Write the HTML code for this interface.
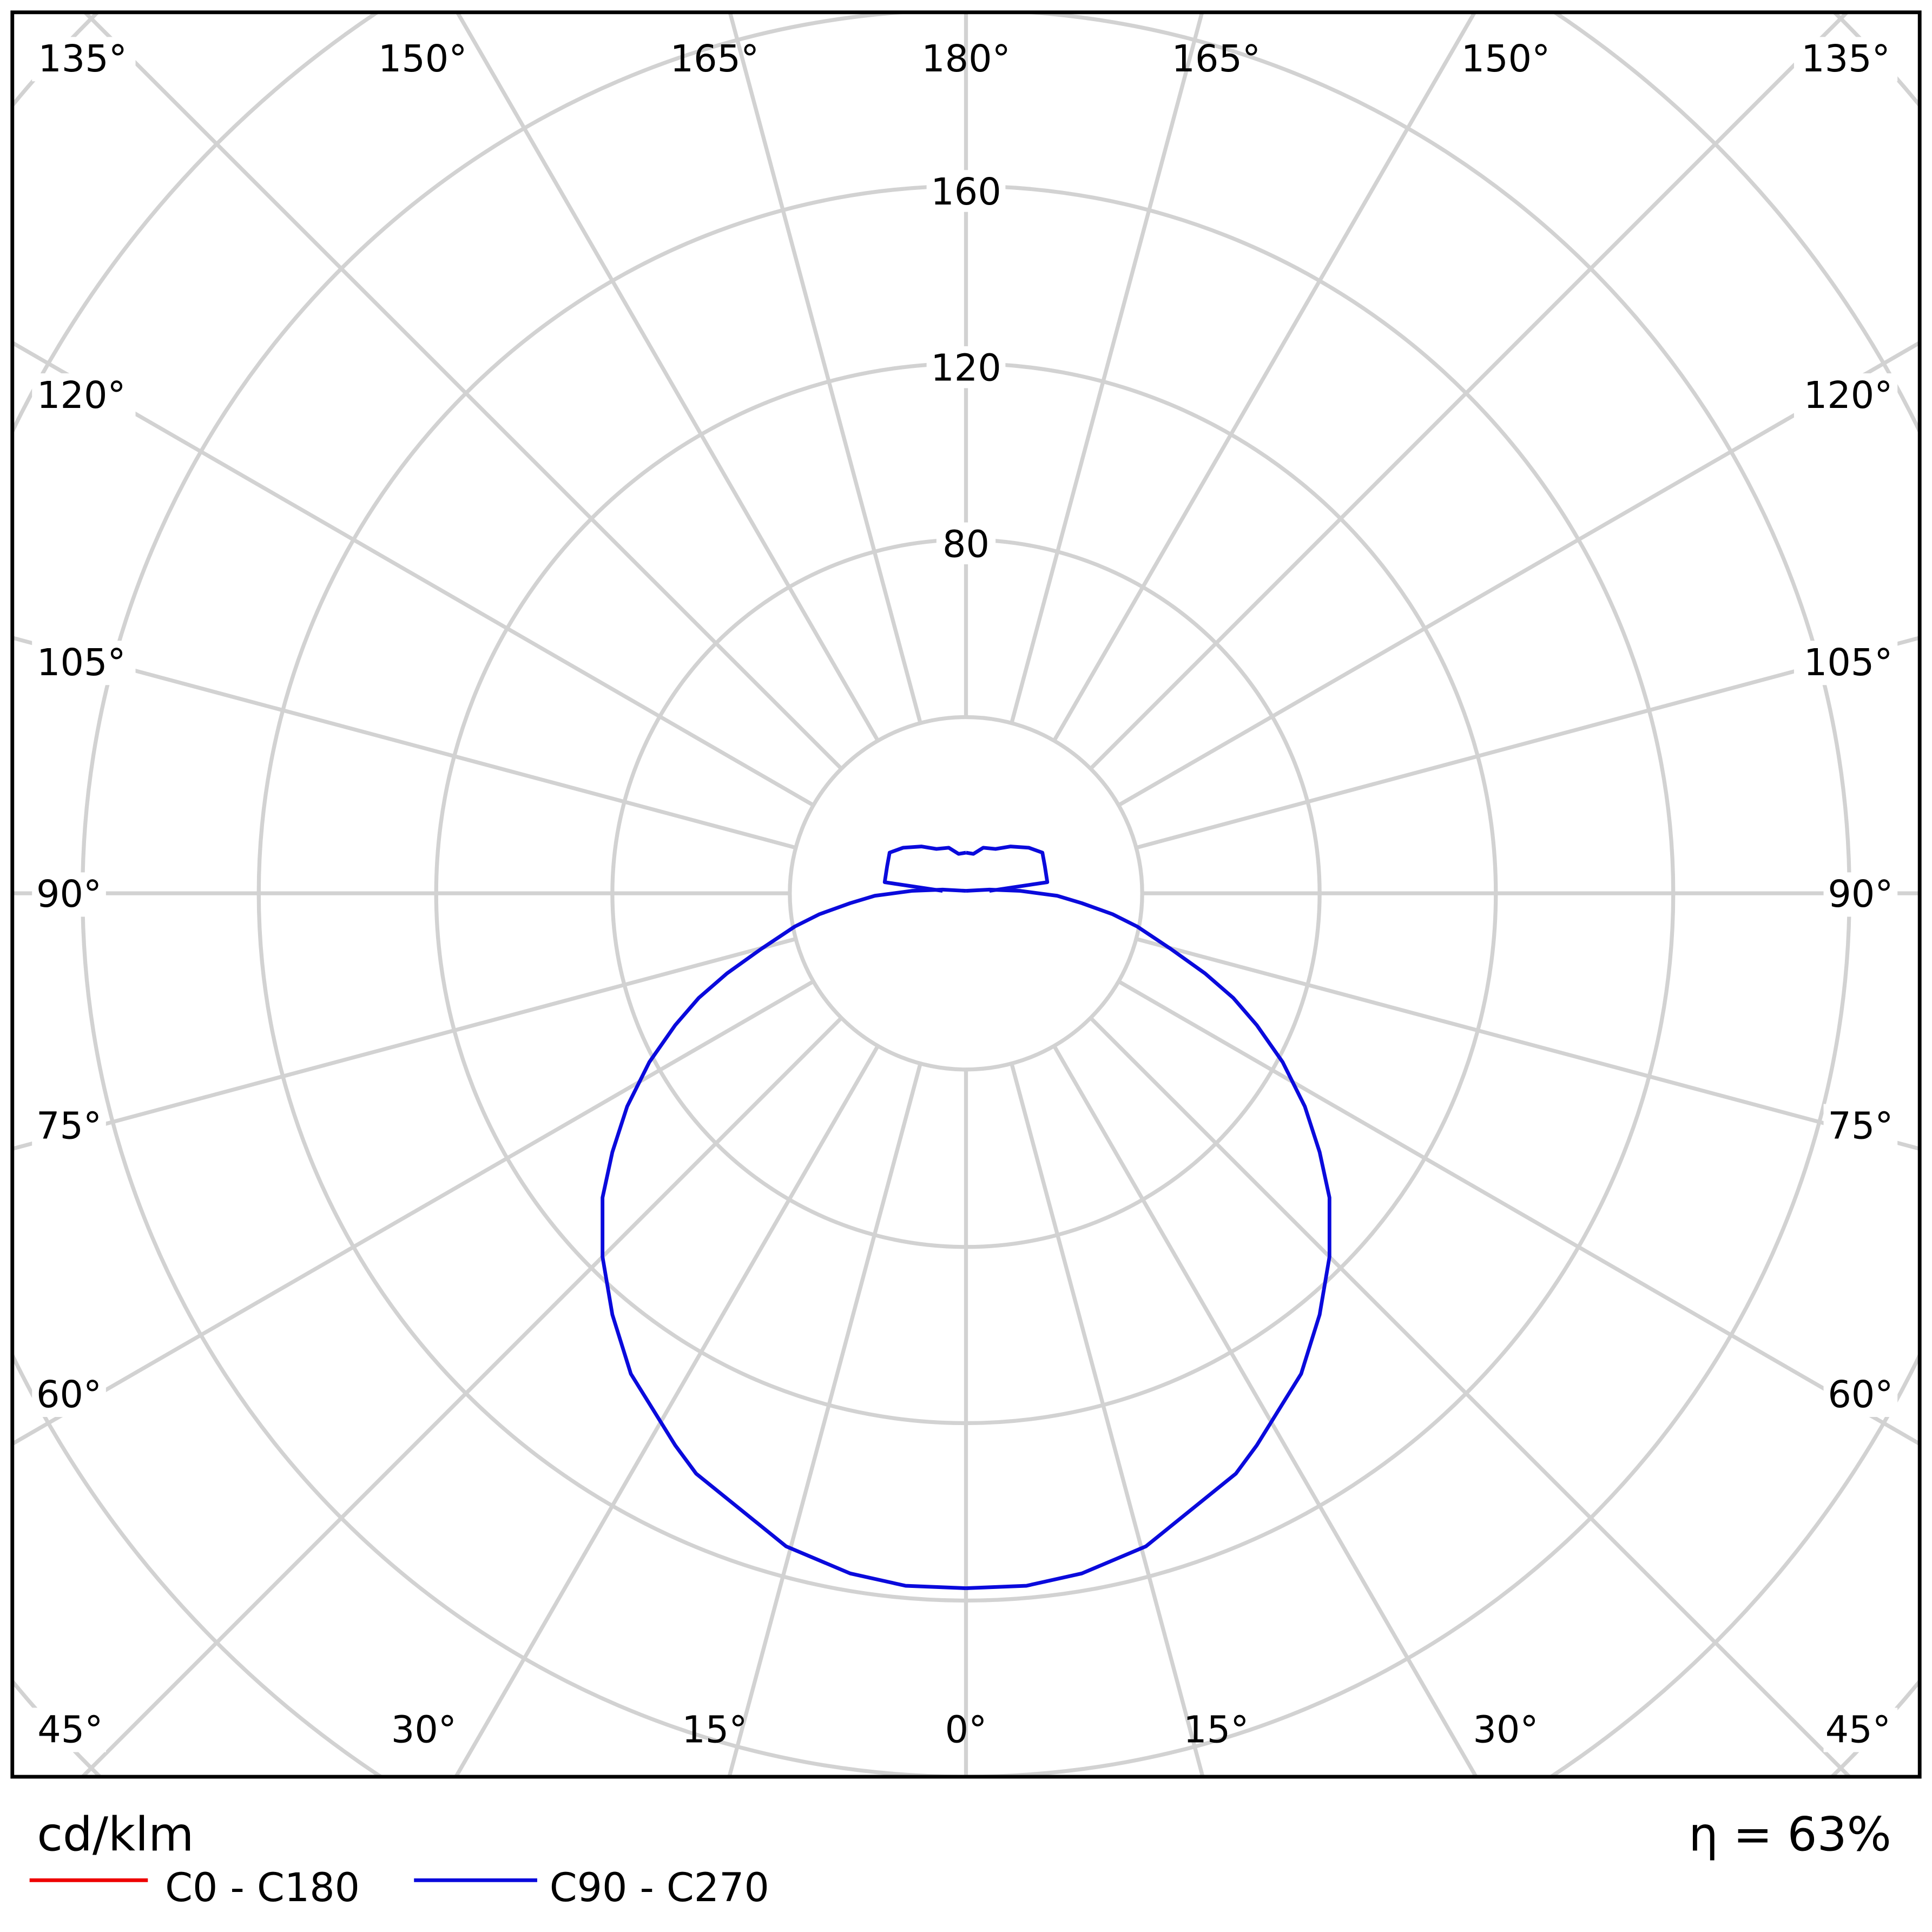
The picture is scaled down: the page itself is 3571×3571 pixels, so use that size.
<!DOCTYPE html>
<html><head><meta charset="utf-8"><style>html,body{margin:0;padding:0;background:#fff;overflow:hidden;width:3571px;height:3571px}svg{display:block}</style></head>
<body>
<svg width="3571" height="3571" viewBox="0 0 1568 1568" xmlns="http://www.w3.org/2000/svg" font-family="'DejaVu Sans','Liberation Sans',sans-serif">
<defs><clipPath id="c"><rect x="10" y="10" width="1548" height="1432"/></clipPath></defs>
<rect width="1568" height="1568" fill="#fff"/>
<g clip-path="url(#c)" stroke="#d2d2d2" stroke-width="3.2" fill="none">
<circle cx="784" cy="725" r="143"/><circle cx="784" cy="725" r="287"/><circle cx="784" cy="725" r="430"/><circle cx="784" cy="725" r="574"/><circle cx="784" cy="725" r="717"/><circle cx="784" cy="725" r="860"/><circle cx="784" cy="725" r="1004"/>
<g id="sp">
<line x1="784" y1="868" x2="784" y2="2000"/>
<line x1="784" y1="868" x2="784" y2="2000" transform="rotate(15 784 725)"/>
<line x1="784" y1="868" x2="784" y2="2000" transform="rotate(30 784 725)"/>
<line x1="784" y1="868" x2="784" y2="2000" transform="rotate(45 784 725)"/>
<line x1="784" y1="868" x2="784" y2="2000" transform="rotate(60 784 725)"/>
<line x1="784" y1="868" x2="784" y2="2000" transform="rotate(75 784 725)"/>
<line x1="784" y1="868" x2="784" y2="2000" transform="rotate(90 784 725)"/>
<line x1="784" y1="868" x2="784" y2="2000" transform="rotate(105 784 725)"/>
<line x1="784" y1="868" x2="784" y2="2000" transform="rotate(120 784 725)"/>
<line x1="784" y1="868" x2="784" y2="2000" transform="rotate(135 784 725)"/>
<line x1="784" y1="868" x2="784" y2="2000" transform="rotate(150 784 725)"/>
<line x1="784" y1="868" x2="784" y2="2000" transform="rotate(165 784 725)"/>
</g>
<use href="#sp" transform="rotate(180 784 725)"/>
</g>
<g fill="#fff"><rect x="752" y="138" width="64" height="34"/><rect x="752" y="281" width="64" height="34"/><rect x="760" y="424" width="48" height="34"/>
<rect x="26" y="30" width="84" height="36"/><rect x="1456" y="30" width="84" height="36"/>
<rect x="26" y="303" width="84" height="36"/><rect x="1456" y="303" width="84" height="36"/>
<rect x="26" y="520" width="84" height="36"/><rect x="1456" y="520" width="84" height="36"/>
<rect x="26" y="708" width="60" height="36"/><rect x="1480" y="708" width="60" height="36"/>
<rect x="26" y="896" width="60" height="36"/><rect x="1480" y="896" width="60" height="36"/>
<rect x="26" y="1114" width="60" height="36"/><rect x="1480" y="1114" width="60" height="36"/>
<rect x="26" y="1386" width="60" height="36"/><rect x="1480" y="1386" width="60" height="36"/>
</g>
<g font-size="30" text-anchor="middle" fill="#000">
<text x="784" y="166">160</text><text x="784" y="309">120</text><text x="784" y="452">80</text>
<text x="67" y="58">135°</text><text x="343" y="58">150°</text><text x="580" y="58">165°</text><text x="784" y="58">180°</text><text x="987" y="58">165°</text><text x="1222" y="58">150°</text><text x="1498" y="58">135°</text>
<text x="66" y="331">120°</text><text x="66" y="548">105°</text><text x="56" y="736">90°</text><text x="56" y="924">75°</text><text x="56" y="1142">60°</text>
<text x="1500" y="331">120°</text><text x="1500" y="548">105°</text><text x="1510" y="736">90°</text><text x="1510" y="924">75°</text><text x="1510" y="1142">60°</text>
<text x="57" y="1414">45°</text><text x="344" y="1414">30°</text><text x="580" y="1414">15°</text><text x="784" y="1414">0°</text><text x="987" y="1414">15°</text><text x="1222" y="1414">30°</text><text x="1508" y="1414">45°</text>
</g>
<g id="cv" fill="none" stroke="#0a0adc" stroke-width="3" stroke-linejoin="round">
<polyline points="784,1289 735,1287 690,1277 638,1255 565,1196 548,1173 512,1115 497,1067 489,1020 489,972 497,935 509,898 527,862 548,832 567,810 590,790 618,770 645,752 665,742 690,733 710,727 740,723 765,722 784,723"/>
<polyline points="765,723 718,716 720,703 722,692 733,688 748,687 760,689 770,688 778,693 784,692"/>
</g>
<use href="#cv" transform="translate(1568 0) scale(-1 1)"/>
<rect x="10" y="10" width="1548" height="1432" fill="none" stroke="#000" stroke-width="3"/>
<text x="30" y="1502" font-size="38">cd/klm</text>
<text x="1535" y="1502" font-size="38" text-anchor="end">η = 63%</text>
<line x1="24" y1="1526" x2="120" y2="1526" stroke="#e00" stroke-width="3"/>
<text x="134" y="1543" font-size="32">C0 - C180</text>
<line x1="336" y1="1526" x2="436" y2="1526" stroke="#0a0adc" stroke-width="3"/>
<text x="446" y="1543" font-size="32">C90 - C270</text>
</svg>
</body></html>
